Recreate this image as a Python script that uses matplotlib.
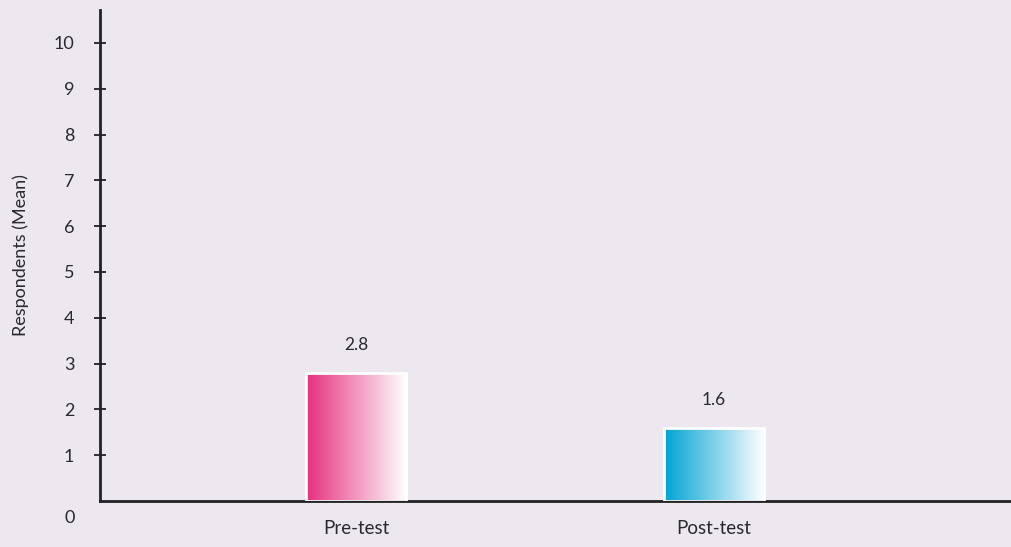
import numpy as np
import matplotlib.pyplot as plt
from matplotlib.colors import to_rgb

groups = ['Pre-test', 'Post-test']
means = [2.8, 1.6]
bar_colors = ['#e6307f', '#00a3d4']
ytick_vals = [1, 2, 3, 4, 5, 6, 7, 8, 9, 10]

plt.rcParams['font.family'] = ['Lato', 'DejaVu Sans']

bg = '#ede7ef'
fig = plt.figure(figsize=(10.11, 5.47), dpi=100, facecolor=bg)
ax = fig.add_axes([100 / 1011, 46 / 547, 911 / 1011, 491 / 547], facecolor=bg)

x = np.arange(len(groups))
width = 0.28
bars = ax.bar(x, means, width=width, facecolor='none', edgecolor='white',
              linewidth=2, zorder=3)

# horizontal fade from the series colour to white inside each bar
for rect, col in zip(bars, bar_colors):
    c0 = np.array(to_rgb(col))
    t = np.linspace(0, 1, 256)[:, None]
    grad = c0 * (1 - t) + np.array([1.0, 1.0, 1.0]) * t
    img = ax.imshow(grad[None, :, :], aspect='auto', zorder=2,
                    extent=(rect.get_x(), rect.get_x() + rect.get_width(),
                            0, rect.get_height()))
    img.set_clip_path(rect)

for xi, v in zip(x, means):
    ax.annotate(f'{v:g}', xy=(xi, v), xytext=(0, 14), textcoords='offset points',
                ha='center', va='bottom', fontsize=12.5, color='#2a2a2a')

ax.set_xlim(-0.715, 1.83)
ax.set_ylim(0, 10.72)
ax.set_xticks(x)
ax.set_xticklabels(groups, fontsize=13.5, color='#2a2a2a')
ax.tick_params(axis='x', length=0, pad=14)
ax.set_yticks(ytick_vals)
ax.set_yticklabels([str(v) for v in ytick_vals], fontsize=13, color='#2a2a2a')
ax.tick_params(axis='y', direction='inout', length=9, width=1.3,
               color='#222222', pad=14)
ax.annotate('0', xy=(0, 0), xycoords=('axes fraction', 'data'),
            xytext=(-18, -12), textcoords='offset points', ha='right', va='center',
            fontsize=13, color='#2a2a2a')

for side in ['top', 'right']:
    ax.spines[side].set_visible(False)
for side in ['left', 'bottom']:
    ax.spines[side].set_linewidth(2)
    ax.spines[side].set_color('#222222')

ax.set_ylabel('Respondents (Mean)', fontsize=13, color='#2a2a2a', labelpad=18)

fig.savefig('out.png', dpi=100, facecolor=bg)
